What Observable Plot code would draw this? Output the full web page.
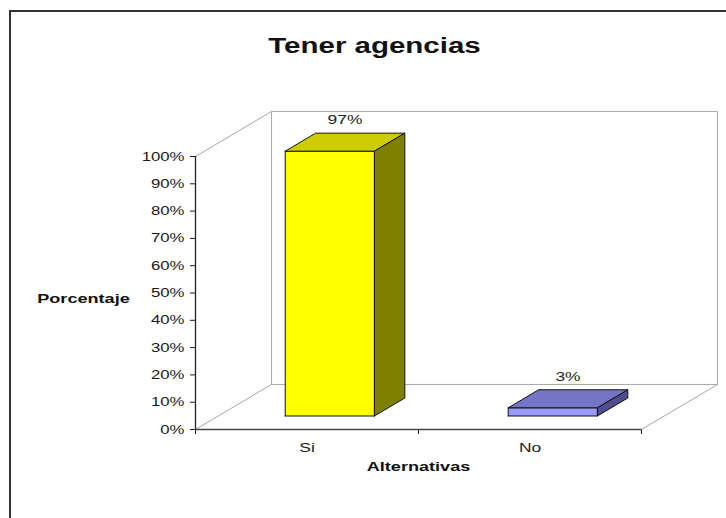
<!DOCTYPE html>
<html>
<head>
<meta charset="utf-8">
<script src="https://cdn.jsdelivr.net/npm/d3@7"></script>
<script src="https://cdn.jsdelivr.net/npm/@observablehq/plot@0.6"></script>
<style>
  body { margin: 0; background: #fff; }
  #wrap { position: relative; width: 726px; height: 518px; overflow: hidden; font-family: "Liberation Sans", Arial, sans-serif; }
  #chart { position: absolute; left: 0; top: 0; }
  #frame { position: absolute; left: 9px; top: 10px; width: 800px; height: 600px; border-left: 2px solid #333; border-top: 2px solid #333; pointer-events: none; }
  #title { position: absolute; left: 0; top: 33px; width: 749px; text-align: center; font-weight: bold; font-size: 22px; line-height: 25px; color: #111; transform: scaleX(1.34); transform-origin: 50% 50%; }
</style>
</head>
<body>
<div id="wrap">
  <div id="chart"></div>
  <div id="title">Tener agencias</div>
  <div id="frame"></div>
</div>
<script>
// ---- data ----
const categories = ["Si", "No"];
const values = [0.97, 0.03];
const valueLabels = ["97%", "3%"];
const yTicks = [0, 0.1, 0.2, 0.3, 0.4, 0.5, 0.6, 0.7, 0.8, 0.9, 1];
const xBoundaryTicks = [0, 1, 2];
const yTitle = "Porcentaje";
const xTitle = "Alternativas";

// ---- style ----
const frontColors = ["#FFFF00", "#9999FF"];
const topColors = ["#CCCC00", "#7575C8"];
const sideColors = ["#808000", "#4D4D8F"];
const STRETCH = 1.34;

// oblique projection (depth expressed in data units of the scales)
const DX = 0.341, DY = 0.165;   // full depth of the floor/walls
const Z0 = 0.3, Z1 = 0.7;       // bar depth span
const BW = 0.4;                 // bar width in x units
const proj = (x, y, z) => ({x: x + z * DX, y: y + z * DY});

// bar faces as closed polygons
const faces = [];
categories.forEach((c, i) => {
  const xc = i + 0.5, v = values[i];
  const xl = xc - BW / 2, xr = xc + BW / 2;
  const poly = (name, color, pts) =>
    pts.concat([pts[0]]).forEach(([x, y, z]) => faces.push({...proj(x, y, z), id: c + name, fill: color}));
  poly("-front", frontColors[i], [[xl, 0, Z0], [xr, 0, Z0], [xr, v, Z0], [xl, v, Z0]]);
  poly("-top", topColors[i], [[xl, v, Z0], [xr, v, Z0], [xr, v, Z1], [xl, v, Z1]]);
  poly("-side", sideColors[i], [[xr, 0, Z0], [xr, 0, Z1], [xr, v, Z1], [xr, v, Z0]]);
});

// wall / floor edges
const xMax = categories.length;
const edge = (a, b) => { const p = proj(...a), q = proj(...b); return {x1: p.x, y1: p.y, x2: q.x, y2: q.y}; };
const walls = [
  edge([0, 1, 1], [xMax, 1, 1]),
  edge([0, 0, 1], [xMax, 0, 1]),
  edge([0, 0, 1], [0, 1, 1]),
  edge([xMax, 0, 1], [xMax, 1, 1]),
  edge([0, 1, 0], [0, 1, 1]),
  edge([0, 0, 0], [0, 0, 1]),
  edge([xMax, 0, 0], [xMax, 0, 1])
];

const labelPos = categories.map((c, i) => ({...proj(i + 0.5, values[i], 0.5), text: valueLabels[i]}));
const catPos = categories.map((c, i) => ({x: i + 0.5, text: c}));

const chart = Plot.plot({
  width: 726,
  height: 518,
  marginLeft: 195,
  marginRight: 85,
  marginTop: 156,
  marginBottom: 89,
  style: {fontFamily: "'Liberation Sans', Arial, sans-serif", fontSize: "12.5px", color: "#1a1a1a", background: "transparent", overflow: "visible"},
  color: {type: "identity"},
  x: {domain: [0, xMax], ticks: xBoundaryTicks, tickFormat: () => "", tickSize: 5, label: null},
  y: {domain: [0, 1], ticks: yTicks, tickFormat: d3.format(".0%"), tickSize: 5, tickPadding: 6, label: null},
  marks: [
    Plot.link(walls, {x1: "x1", y1: "y1", x2: "x2", y2: "y2", stroke: "#a8a8a8", strokeWidth: 1}),
    Plot.ruleY([0], {x1: 0, x2: xMax, stroke: "#444", strokeWidth: 1.3}),
    Plot.ruleX([0], {y1: 0, y2: 1, stroke: "#222", strokeWidth: 1.3}),
    Plot.line(faces, {x: "x", y: "y", z: "id", fill: "fill", stroke: "#111", strokeWidth: 1, curve: "linear", strokeLinejoin: "miter"}),
    Plot.text(labelPos, {x: "x", y: "y", text: "text", dy: -22, fontSize: 13, fill: "#222"}),
    Plot.text(catPos, {x: "x", y: () => 0, text: "text", dy: 18, fontSize: 13, fill: "#222"}),
    Plot.text([yTitle], {text: d => d, frameAnchor: "left", textAnchor: "middle", dx: -112, dy: 6, fontSize: 13.5, fontWeight: "bold", fill: "#111"}),
    Plot.text([xTitle], {text: d => d, frameAnchor: "bottom", textAnchor: "middle", dy: 41, fontSize: 13.5, fontWeight: "bold", fill: "#111"})
  ]
});

document.getElementById("chart").appendChild(chart);

// horizontal stretch of all texts, as in the reference rendering
chart.querySelectorAll("text").forEach(t => {
  const len = t.getComputedTextLength();
  if (len > 0) {
    t.setAttribute("textLength", (len * STRETCH).toFixed(2));
    t.setAttribute("lengthAdjust", "spacingAndGlyphs");
  }
});
</script>
</body>
</html>
